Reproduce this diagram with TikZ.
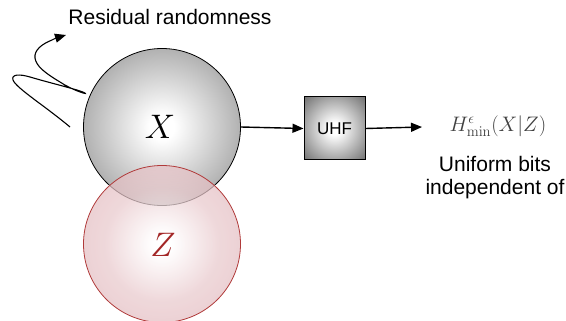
\RequirePackage{fix-cm}
\documentclass[tikz,border=0pt]{standalone}
\usepackage[no-math]{fontspec}
\setmainfont{Liberation Sans}
\usetikzlibrary{arrows.meta}
\definecolor{zred}{HTML}{A32626}
\definecolor{zedge}{HTML}{B03A3A}
\definecolor{zpink}{HTML}{DFB2B7}
\pgfdeclareradialshading{ballgray}{\pgfpoint{0bp}{0bp}}{color(0bp)=(white); color(4bp)=(white); color(35bp)=(black!45); color(50bp)=(black!45)}
\pgfdeclareradialshading{ballpink}{\pgfpoint{0bp}{0bp}}{color(0bp)=(white); color(3bp)=(white); color(18bp)=(zpink!70!white); color(35bp)=(zpink); color(50bp)=(zpink)}
\pgfdeclareradialshading{boxgray}{\pgfpoint{0bp}{0bp}}{color(0bp)=(white); color(5bp)=(white); color(35bp)=(black!55); color(50bp)=(black!68)}
\tikzset{
  arr/.style={line width=1.4pt,-{Triangle[length=11pt,width=9pt]}},
  lab/.style={font=\fontsize{21}{25}\selectfont, text=black, inner sep=0pt},
}
\begin{document}
\begin{tikzpicture}[x=1pt,y=-1pt]
\useasboundingbox (0,0) rectangle (566,321);
\begin{scope}
\clip (0,0) rectangle (566,321);
\node[circle, minimum size=157pt, draw=black, line width=0.8pt, shading=ballgray] (X) at (162,127) {};
\node[font=\fontsize{34}{40}\selectfont, inner sep=0pt] (Xl) at (160,127) {$X$};
\node[circle, minimum size=157pt, draw=zedge, line width=0.8pt, fill opacity=0.72, shading=ballpink] (Z) at (162,244) {};
\node[font=\fontsize{34}{40}\selectfont, text=zred, inner sep=0pt] (Zl) at (163,245) {$Z$};
\end{scope}
\node[draw=black, line width=1pt, minimum width=61pt, minimum height=63pt, shading=boxgray, font=\fontsize{17}{20}\selectfont] (U) at (334.5,128.5) {UHF};
\node[font=\fontsize{21}{24}\selectfont, text=black!75, inner sep=0pt] (H) at (498,126) {$H^{\epsilon}_{\min}(X|Z)$};
\coordinate (He) at (422,127);
\node[lab] (u1) at (495,164) {Uniform bits};
\node[lab] (u2) at (495,189) {independent of};
\node[lab] (rr) at (170,17) {Residual randomness};
\draw[arr] (X.east) -- (U.west);
\draw[arr] (U.east) -- (He);
\draw[line width=1.1pt,-{Triangle[length=11pt,width=9pt]}] (70,127) .. controls (45,106) and (16,88) .. (13,80) .. controls (11,74) and (20,74) .. (30,77) .. controls (50,83) and (80,90) .. (85,93) .. controls (88,95) and (72,90) .. (60,82) .. controls (45,73) and (36,66) .. (35,58) .. controls (34,50) and (42,44) .. (52,40) .. controls (56,38) .. (66,35);
\end{tikzpicture}
\end{document}
